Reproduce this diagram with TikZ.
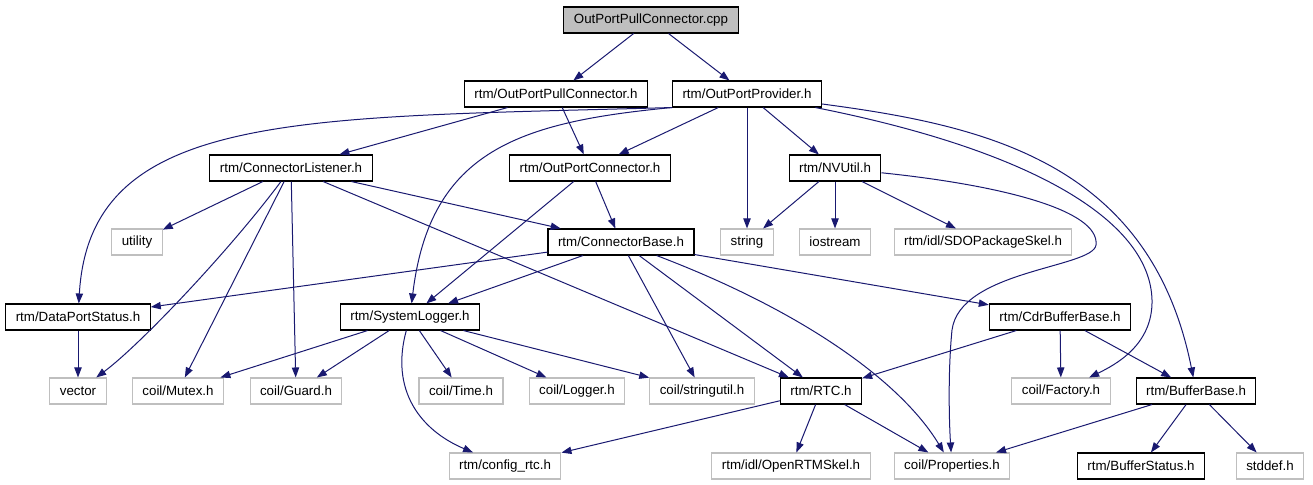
\documentclass[tikz,border=0pt]{standalone}
\usepackage{fontspec}
\setmainfont{Liberation Sans}
\usetikzlibrary{arrows.meta}
\definecolor{edgeblue}{RGB}{25,25,112}
\definecolor{extgray}{RGB}{191,191,191}
\definecolor{maingray}{RGB}{191,191,191}

\begin{document}
\begin{tikzpicture}[x=0.75pt,y=-0.75pt,
	file/.style={draw=black,fill=white,line width=0.8pt,minimum height=19.5pt,inner xsep=7.5pt,inner ysep=0pt,font=\fontsize{10}{12}\selectfont},
	extfile/.style={file,draw=extgray},
	mainfile/.style={file,fill=maingray},
	dep/.style={draw=edgeblue,line width=0.75pt,-{Triangle[length=7.5pt,width=5.5pt]}}]
	    \useasboundingbox (0,0) rectangle (1313,485);
	    \node(cpp)		[mainfile] at (651,20)	{OutPortPullConnector.cpp};
	    \node(pullh)	[file] at (556,94)		{rtm/OutPortPullConnector.h};
	    \node(provider)	[file] at (747,94)		{rtm/OutPortProvider.h};
	    \node(listener)	[file] at (291,168)		{rtm/ConnectorListener.h};
	    \node(outconn)	[file] at (590,168)		{rtm/OutPortConnector.h};
	    \node(nvutil)	[file] at (835,168)		{rtm/NVUtil.h};
	    \node(utility)	[extfile] at (137,242)	{utility};
	    \node(base)		[file] at (621,242)		{rtm/ConnectorBase.h};
	    \node(string)	[extfile] at (747,242)	{string};
	    \node(iostream)	[extfile] at (835,242)	{iostream};
	    \node(sdo)		[extfile] at (983,242)	{rtm/idl/SDOPackageSkel.h};
	    \node(dps)		[file] at (78,317)		{rtm/DataPortStatus.h};
	    \node(logger)	[file] at (410,317)		{rtm/SystemLogger.h};
	    \node(cdr)		[file] at (1060,317)	{rtm/CdrBufferBase.h};
	    \node(vector)	[extfile] at (78,391)	{vector};
	    \node(mutex)	[extfile] at (178,391)	{coil/Mutex.h};
	    \node(guard)	[extfile] at (296,391)	{coil/Guard.h};
	    \node(time)		[extfile] at (461,391)	{coil/Time.h};
	    \node(clog)		[extfile] at (577,391)	{coil/Logger.h};
	    \node(strutil)	[extfile] at (702,391)	{coil/stringutil.h};
	    \node(rtc)		[file] at (821,391)		{rtm/RTC.h};
	    \node(factory)	[extfile] at (1061,391)	{coil/Factory.h};
	    \node(bufbase)	[file] at (1196,391)	{rtm/BufferBase.h};
	    \node(config)	[extfile] at (505,466)	{rtm/config\_rtc.h};
	    \node(openrtm)	[extfile] at (791,466)	{rtm/idl/OpenRTMSkel.h};
	    \node(props)	[extfile] at (952,466)	{coil/Properties.h};
	    \node(bufstat)	[file] at (1141,466)	{rtm/BufferStatus.h};
	    \node(stddef)	[extfile] at (1270,466)	{stddef.h};
	    \draw[dep] (cpp) -- (pullh);
	    \draw[dep] (cpp) -- (provider);
	    \draw[dep] (pullh) -- (listener);
	    \draw[dep] (pullh) -- (outconn);
	    \draw[dep] (provider.south west) .. controls (300,118) and (90,110) .. (dps);
	    \draw[dep] (provider.south west) .. controls (520,122) and (430,150) .. (logger);
	    \draw[dep] (provider) -- (outconn);
	    \draw[dep] (provider) -- (string);
	    \draw[dep] (provider) -- (nvutil);
	    \draw[dep] (provider) .. controls (1030,150) and (1150,220) .. (1152,300) .. controls (1153,345) and (1115,365) .. (factory);
	    \draw[dep] (provider) .. controls (980,125) and (1150,160) .. (bufbase);
	    \draw[dep] (listener) -- (utility);
	    \draw[dep] (listener) .. controls (230,250) and (140,345) .. (vector);
	    \draw[dep] (listener) -- (mutex);
	    \draw[dep] (listener) -- (guard);
	    \draw[dep] (listener) -- (base);
	    \draw[dep] (listener) -- (rtc);
	    \draw[dep] (outconn) -- (base);
	    \draw[dep] (outconn) -- (logger);
	    \draw[dep] (nvutil) -- (string);
	    \draw[dep] (nvutil) -- (iostream);
	    \draw[dep] (nvutil) -- (sdo);
	    \draw[dep] (nvutil) .. controls (1000,185) and (1100,210) .. (1096,245) .. controls (1093,268) and (960,270) .. (952,330) .. controls (948,370) and (949,420) .. (props);
	    \draw[dep] (base) -- (dps);
	    \draw[dep] (base) -- (logger);
	    \draw[dep] (base) -- (strutil);
	    \draw[dep] (base) -- (rtc);
	    \draw[dep] (base) .. controls (800,310) and (900,380) .. (props);
	    \draw[dep] (base) -- (cdr);
	    \draw[dep] (logger) -- (mutex);
	    \draw[dep] (logger) -- (guard);
	    \draw[dep] (logger) .. controls (390,390) and (420,430) .. (config);
	    \draw[dep] (logger) -- (time);
	    \draw[dep] (logger) -- (clog);
	    \draw[dep] (logger) -- (strutil);
	    \draw[dep] (dps) -- (vector);
	    \draw[dep] (cdr) -- (rtc);
	    \draw[dep] (cdr) -- (factory);
	    \draw[dep] (cdr) -- (bufbase);
	    \draw[dep] (rtc) -- (config);
	    \draw[dep] (rtc) -- (openrtm);
	    \draw[dep] (rtc) -- (props);
	    \draw[dep] (bufbase) -- (props);
	    \draw[dep] (bufbase) -- (bufstat);
	    \draw[dep] (bufbase) -- (stddef);
	  \end{tikzpicture}
\end{document}
